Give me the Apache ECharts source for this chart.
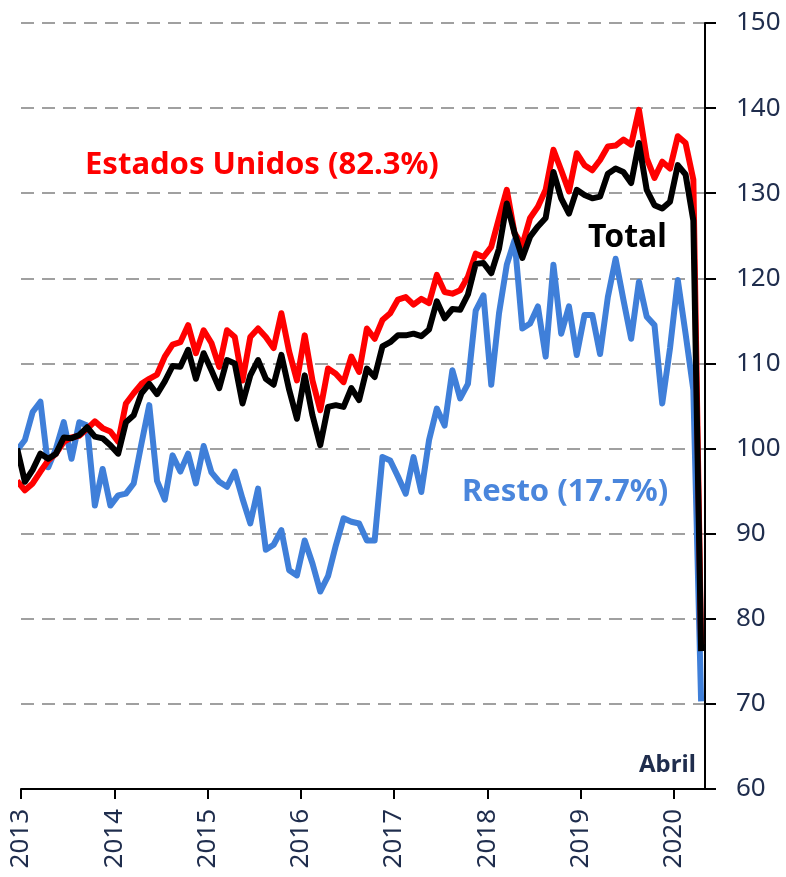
<!DOCTYPE html>
<html>
<head>
<meta charset="utf-8">
<script src="https://cdn.jsdelivr.net/npm/echarts@6/dist/echarts.min.js"></script>
<style>
  html, body { margin: 0; padding: 0; background: #fff; }
  #chart { width: 786px; height: 877px; }
</style>
</head>
<body>
<div id="chart"></div>
<script>
// serie mensual, dic 2012 (solo entra recortado) a abril 2020
const firstMonth = '2012-12';

const estadosUnidos = [
  96.2,
  95.1, 95.9, 97.3, 98.6, 99.4, 100.8, 101.3, 101.5, 102.3, 103.2, 102.4, 102.0,
  100.8, 105.3, 106.5, 107.6, 108.2, 108.7, 110.8, 112.2, 112.5, 114.5, 111.2, 113.9,
  112.4, 109.6, 113.9, 113.1, 108.0, 113.1, 114.1, 113.1, 111.8, 115.9, 111.4, 108.0,
  113.3, 108.0, 104.5, 109.4, 108.8, 107.8, 110.8, 109.0, 114.1, 112.9, 115.1, 115.9,
  117.5, 117.8, 116.9, 117.6, 117.1, 120.4, 118.4, 118.2, 118.6, 120.2, 122.9, 122.5,
  123.7, 127.1, 130.4, 125.3, 123.9, 127.1, 128.4, 130.4, 135.1, 132.7, 130.2, 134.7,
  133.3, 132.7, 133.9, 135.5, 135.6, 136.3, 135.7, 139.8, 134.1, 131.8, 133.7, 132.9,
  136.7, 135.9, 131.6, 77.0
];

const total = [
  100.0,
  96.1, 97.5, 99.4, 98.8, 99.4, 101.3, 101.2, 101.6, 102.5, 101.4, 101.2, 100.4,
  99.4, 103.1, 103.9, 106.5, 107.6, 106.4, 107.9, 109.7, 109.6, 111.6, 108.2, 111.2,
  109.2, 107.1, 110.4, 110.0, 105.3, 108.6, 110.4, 108.2, 107.5, 111.0, 106.9, 103.5,
  108.6, 103.9, 100.4, 104.9, 105.1, 104.9, 107.1, 105.7, 109.4, 108.4, 112.0, 112.5,
  113.3, 113.3, 113.5, 113.2, 114.0, 117.3, 115.3, 116.4, 116.3, 118.1, 121.7, 121.8,
  120.6, 123.5, 128.8, 125.3, 122.4, 124.9, 126.1, 127.1, 132.5, 129.4, 127.6, 130.4,
  129.8, 129.4, 129.6, 132.3, 132.9, 132.5, 131.2, 135.9, 130.4, 128.6, 128.2, 129.0,
  133.3, 132.2, 126.8, 76.2
];

const resto = [
  99.8,
  101.0, 104.3, 105.5, 97.8, 100.0, 103.1, 98.8, 103.1, 102.7, 93.3, 97.6, 93.3,
  94.5, 94.7, 95.9, 100.6, 105.1, 96.2, 94.0, 99.2, 97.3, 99.4, 95.9, 100.3,
  97.2, 96.1, 95.5, 97.3, 94.1, 91.2, 95.3, 88.1, 88.7, 90.4, 85.7, 85.1,
  89.2, 86.5, 83.2, 85.0, 88.6, 91.8, 91.4, 91.2, 89.2, 89.2, 99.0, 98.6,
  96.7, 94.7, 99.0, 94.9, 101.0, 104.7, 102.7, 109.2, 105.9, 107.6, 116.2, 118.0,
  107.5, 115.9, 121.6, 124.5, 114.1, 114.7, 116.7, 110.8, 121.6, 113.5, 116.7, 111.0,
  115.7, 115.7, 111.1, 117.8, 122.3, 117.5, 112.9, 119.6, 115.5, 114.5, 105.3, 111.8,
  119.8, 113.5, 106.9, 70.3
];

const yearLabels = ['2013', '2014', '2015', '2016', '2017', '2018', '2019', '2020'];
const yMin = 60, yMax = 150, yStep = 10;

// etiquetas de mes
const months = [];
{
  let [y, m] = firstMonth.split('-').map(Number);
  for (let i = 0; i < total.length; i++) {
    months.push(y + '-' + String(m).padStart(2, '0'));
    m++;
    if (m > 12) { m = 1; y++; }
  }
}

const baseYear = Number(yearLabels[0]);
// cada mes se dibuja en el centro de su intervalo
function monthPos(label) {
  const [y, m] = label.split('-').map(Number);
  return (y - baseYear) * 12 + (m - 1) + 0.5;
}
const pairs = vals => vals.map((v, i) => [monthPos(months[i]), v]);

const lastPos = monthPos(months[months.length - 1]) + 0.5;
const yearTicks = yearLabels.map(y => (Number(y) - baseYear) * 12);

const chart = echarts.init(document.getElementById('chart'));

const axisText = '#1F2D4D';
const lineW = 6;

const option = {
  backgroundColor: '#fff',
  animation: false,
  grid: { left: 21, right: 81, top: 23, bottom: 88 },
  xAxis: {
    type: 'value',
    min: 0,
    max: lastPos,
    interval: 12,
    axisLine: { show: true, onZero: false, lineStyle: { color: '#000', width: 2 } },
    axisTick: { show: true, length: 10, customValues: yearTicks, lineStyle: { color: '#000', width: 2 } },
    axisLabel: {
      customValues: yearTicks,
      rotate: 90,
      margin: 20,
      fontFamily: 'Noto Sans',
      fontSize: 26,
      color: axisText,
      formatter: v => yearLabels[Math.round(v / 12)] || ''
    },
    splitLine: { show: false }
  },
  yAxis: {
    type: 'value',
    position: 'right',
    min: yMin,
    max: yMax,
    interval: yStep,
    axisLine: { show: true, onZero: false, lineStyle: { color: '#000', width: 2 } },
    axisTick: { show: true, inside: false, length: 11, lineStyle: { color: '#000', width: 2 } },
    axisLabel: { margin: 31, fontFamily: 'Noto Sans', fontSize: 26, color: axisText },
    splitLine: {
      show: true,
      lineStyle: { color: '#A0A0A0', width: 2, type: [13, 8] }
    }
  },
  series: [
    {
      name: 'Resto', type: 'line', data: pairs(resto), symbol: 'none',
      lineStyle: { color: '#3F7FD9', width: lineW, join: 'round' }, z: 2
    },
    {
      name: 'Estados Unidos', type: 'line', data: pairs(estadosUnidos), symbol: 'none',
      lineStyle: { color: '#FF0000', width: lineW, join: 'round' }, z: 3
    },
    {
      name: 'Total', type: 'line', data: pairs(total), symbol: 'none',
      lineStyle: { color: '#000000', width: lineW, join: 'round' }, z: 4
    }
  ],
  graphic: [
    {
      type: 'text', left: 85, top: 150,
      style: { text: 'Estados Unidos (82.3%)', fill: '#FF0000', font: 'bold 31px "Noto Sans"' }
    },
    {
      type: 'text', left: 588, top: 222,
      style: { text: 'Total', fill: '#000', font: 'bold 32px "Noto Sans"' }
    },
    {
      type: 'text', left: 462, top: 477,
      style: { text: 'Resto (17.7%)', fill: '#4A86DC', font: 'bold 31px "Noto Sans"' }
    },
    {
      type: 'text', left: 639, top: 753,
      style: { text: 'Abril', fill: axisText, font: 'bold 24px "Noto Sans"' }
    }
  ]
};

chart.setOption(option);
</script>
</body>
</html>
